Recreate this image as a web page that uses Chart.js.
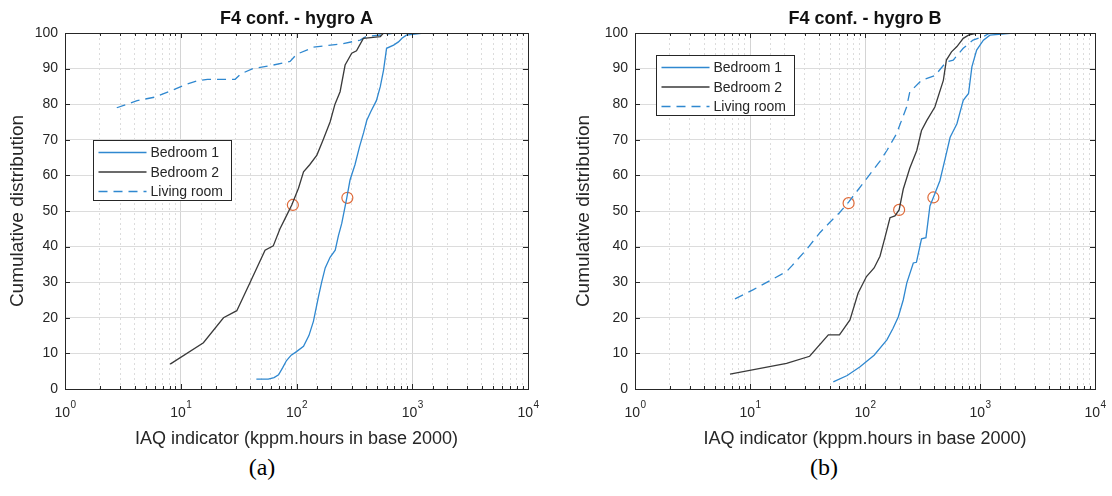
<!DOCTYPE html>
<html>
<head>
<meta charset="utf-8">
<script src="https://cdn.jsdelivr.net/npm/chart.js@4.4.0/dist/chart.umd.min.js"></script>
<style>
  body { margin: 0; background: #fff; width: 1112px; height: 496px; position: relative; overflow: hidden; }
  canvas { position: absolute; top: 0; }
  .cap { position: absolute; top: 454px; font-family: "Liberation Serif", "Times New Roman", serif; font-size: 24px; color: #000; transform: translateX(-50%); }
</style>
</head>
<body>
<canvas id="chartA" width="556" height="450" style="left:0"></canvas>
<canvas id="chartB" width="556" height="450" style="left:556px"></canvas>
<div class="cap" style="left:262px">(a)</div>
<div class="cap" style="left:824px">(b)</div>
<script>
/* Cumulative distribution of the IAQ indicator, two hygro configurations */

const seriesLabels = ["Bedroom 1", "Bedroom 2", "Living room"];
const seriesColors = ["#2f88d0", "#3a3a3a", "#2f88d0"];
const seriesDash = [[], [], [9, 6]];
const xTickValues = [1, 10, 100, 1000, 10000];
const yTickStep = 10;

// hygro A
const bed1A_x = [45, 57, 64, 70, 76, 82, 90, 100, 115, 128, 140, 155, 165, 177, 195, 216, 230, 246, 272, 290, 320, 350, 380, 405, 440, 490, 530, 565, 600, 690, 760, 815, 890, 1250];
const bed1A_y = [2.8, 2.8, 3.2, 4, 6, 8, 9.5, 10.5, 12, 15, 19, 26, 30, 34, 37, 39, 43, 46.5, 53.7, 58.7, 63, 68, 72, 75.5, 78, 81, 85, 89.6, 95.7, 96.6, 97.5, 98.5, 99.4, 100];
const bed2A_x = [8.1, 15.7, 23.4, 30.5, 39.8, 53.5, 63, 72, 80, 91, 104, 115, 130, 150, 170, 195, 215, 238, 263, 300, 330, 378, 530, 565, 760];
const bed2A_y = [7, 13, 20, 22, 30, 39, 40.2, 45, 48, 51.7, 56.4, 61, 63, 65.7, 70, 75, 80, 83.5, 91, 94.3, 95, 98.5, 99, 100, 100];
const livA_x = [2.8, 4.2, 6, 8.6, 11, 13.7, 17, 29.5, 33, 42, 63, 88, 100, 140, 250, 355, 400, 560, 700];
const livA_y = [79, 81, 82, 84, 85.5, 86.5, 87, 87, 88.5, 90, 91, 92, 94, 96, 97, 98, 99, 99.5, 100];
const medA_x = [93, 275];
const medA_y = [51.7, 53.7];

// hygro B
const bed1B_x = [53, 70, 90, 120, 155, 175, 195, 215, 231, 263, 280, 310, 339, 367, 393, 448, 500, 550, 630, 715, 795, 850, 935, 1070, 1220, 1950];
const bed1B_y = [2, 3.8, 6.2, 9.5, 13.8, 17, 20.3, 25, 29.8, 35.4, 35.6, 42.2, 42.5, 51.4, 53.8, 58.5, 65, 70.7, 74.5, 81.1, 83, 90.5, 95.2, 98, 99.4, 100];
const bed2B_x = [6.7, 20.8, 33, 48, 60, 74, 87, 103, 120, 135, 149, 165, 182, 198, 215, 245, 282, 310, 344, 405, 480, 510, 565, 630, 715, 795, 935];
const bed2B_y = [4.2, 7.2, 9.2, 15.2, 15.2, 19.4, 26.9, 31.6, 34, 37.3, 42.5, 48.1, 48.6, 50.3, 56.1, 62, 67, 72.6, 75.4, 79.2, 86.7, 92.4, 94.7, 96.2, 98.5, 99.4, 100];
const livB_x = [7.4, 10.7, 15, 20.8, 23, 31, 40.5, 50, 60, 72, 100, 135, 155, 188, 230, 245, 310, 405, 510, 585, 715, 870, 1070, 1220];
const livB_y = [25.3, 27.9, 30.5, 33, 34.5, 39.2, 43.9, 47, 49.5, 52.5, 58.5, 64, 67, 71.7, 79.2, 83.4, 86.7, 88, 91.9, 92.4, 95.7, 98, 99, 100];
const medB_x = [72, 198, 393];
const medB_y = [52.2, 50.3, 53.8];

const FONT = "'Liberation Sans', Arial, Helvetica, sans-serif";
const INK = "#262626";

function toPoints(xs, ys) {
  return xs.map((x, i) => ({ x, y: ys[i] }));
}

function isDecade(v) {
  const l = Math.log10(v);
  return Math.abs(l - Math.round(l)) < 1e-6;
}

// MATLAB-like axes box, inward ticks, title, 10^n tick labels and legend
const axesDeco = {
  id: "axesDeco",
  afterDraw(chart, args, opts) {
    const { ctx, chartArea: a } = chart;
    const xs = chart.scales.x;
    const ys = chart.scales.y;
    ctx.save();

    ctx.strokeStyle = INK;
    ctx.lineWidth = 1;
    ctx.setLineDash([]);
    ctx.beginPath();
    xs.ticks.forEach((t) => {
      const px = Math.round(xs.getPixelForValue(t.value)) + 0.5;
      const len = isDecade(t.value) ? 5 : 3;
      ctx.moveTo(px, a.bottom); ctx.lineTo(px, a.bottom - len);
      ctx.moveTo(px, a.top); ctx.lineTo(px, a.top + len);
    });
    ys.ticks.forEach((t) => {
      const py = Math.round(ys.getPixelForValue(t.value)) + 0.5;
      ctx.moveTo(a.left, py); ctx.lineTo(a.left + 5, py);
      ctx.moveTo(a.right, py); ctx.lineTo(a.right - 5, py);
    });
    ctx.stroke();
    ctx.strokeRect(Math.round(a.left) + 0.5, Math.round(a.top) + 0.5,
      Math.round(a.right - a.left), Math.round(a.bottom - a.top));

    // title
    ctx.fillStyle = "#111";
    ctx.font = "bold 18px " + FONT;
    ctx.textAlign = "center";
    ctx.textBaseline = "alphabetic";
    ctx.fillText(opts.title, (a.left + a.right) / 2, 24);

    // x tick labels 10^n
    ctx.fillStyle = INK;
    ctx.textAlign = "left";
    xTickValues.forEach((v) => {
      const px = xs.getPixelForValue(v);
      const exp = String(Math.round(Math.log10(v)));
      ctx.font = "14px " + FONT;
      const w1 = ctx.measureText("10").width;
      ctx.font = "10px " + FONT;
      const w2 = ctx.measureText(exp).width;
      const left = px - (w1 + w2) / 2;
      ctx.font = "14px " + FONT;
      ctx.fillText("10", left, 417);
      ctx.font = "10px " + FONT;
      ctx.fillText(exp, left + w1 + 0.5, 408);
    });

    // legend box
    const bx = Math.round(a.left + opts.legendAt[0]) + 0.5;
    const by = Math.round(a.top + opts.legendAt[1]) + 0.5;
    ctx.fillStyle = "#fff";
    ctx.fillRect(bx, by, 138, 60);
    ctx.strokeStyle = INK;
    ctx.lineWidth = 1;
    ctx.strokeRect(bx, by, 138, 60);
    ctx.font = "14px " + FONT;
    ctx.textBaseline = "middle";
    chart.data.datasets.slice(0, 3).forEach((ds, i) => {
      const ry = by + 12 + i * 19.5;
      ctx.strokeStyle = ds.borderColor;
      ctx.lineWidth = ds.borderWidth;
      ctx.setLineDash(ds.borderDash || []);
      ctx.beginPath();
      ctx.moveTo(bx + 5, ry);
      ctx.lineTo(bx + 53, ry);
      ctx.stroke();
      ctx.fillStyle = INK;
      ctx.fillText(ds.label, bx + 57, ry + 1);
    });
    ctx.restore();
  }
};

function makeChart(id, title, series, medX, medY, yWidth, yTitlePad, rightPad, legendAt) {
  const datasets = series.map((s, i) => ({
    label: seriesLabels[i],
    data: toPoints(s[0], s[1]),
    borderColor: seriesColors[i],
    borderDash: seriesDash[i],
    borderWidth: 1.3,
    pointRadius: 0,
    tension: 0,
    fill: false,
  }));
  datasets.push({
    type: "scatter",
    label: "median",
    data: toPoints(medX, medY),
    showLine: false,
    pointRadius: 5.5,
    pointBorderWidth: 1.2,
    pointBorderColor: "#df6b3a",
    pointBackgroundColor: "rgba(0,0,0,0)",
  });

  return new Chart(document.getElementById(id), {
    type: "line",
    data: { datasets },
    plugins: [axesDeco],
    options: {
      responsive: false,
      animation: false,
      layout: { padding: { left: 0, right: rightPad, top: 33, bottom: 0 } },
      plugins: {
        legend: { display: false },
        title: { display: false },
        tooltip: { enabled: false },
        axesDeco: { title, legendAt },
      },
      scales: {
        x: {
          type: "logarithmic",
          min: 1,
          max: 10000,
          afterFit: (scale) => { scale.height = 61; },
          ticks: { display: false },
          grid: {
            drawTicks: false,
            color: (ctx) => (ctx.tick && isDecade(ctx.tick.value) ? "#d4d4d4" : "#dcdcdc"),
          },
          border: {
            display: false,
            dash: (ctx) => (ctx.tick && isDecade(ctx.tick.value) ? [] : [2, 3]),
          },
          title: {
            display: true,
            text: "IAQ indicator (kppm.hours in base 2000)",
            color: INK,
            font: { family: FONT, size: 18 },
            padding: { top: 0, bottom: 0 },
          },
        },
        y: {
          min: 0,
          max: 100,
          afterFit: (scale) => { scale.width = yWidth; },
          ticks: {
            stepSize: yTickStep,
            color: INK,
            padding: 7,
            font: { family: FONT, size: 14 },
          },
          grid: { drawTicks: false, color: "#dcdcdc" },
          border: { display: false },
          title: {
            display: true,
            text: "Cumulative distribution",
            color: INK,
            font: { family: FONT, size: 19 },
            padding: { top: yTitlePad, bottom: 0 },
          },
        },
      },
    },
  });
}

makeChart("chartA", "F4 conf. - hygro A",
  [[bed1A_x, bed1A_y], [bed2A_x, bed2A_y], [livA_x, livA_y]],
  medA_x, medA_y, 65, 6, 28, [28, 107]);

makeChart("chartB", "F4 conf. - hygro B",
  [[bed1B_x, bed1B_y], [bed2B_x, bed2B_y], [livB_x, livB_y]],
  medB_x, medB_y, 79, 16, 17, [21, 22]);
</script>
</body>
</html>
